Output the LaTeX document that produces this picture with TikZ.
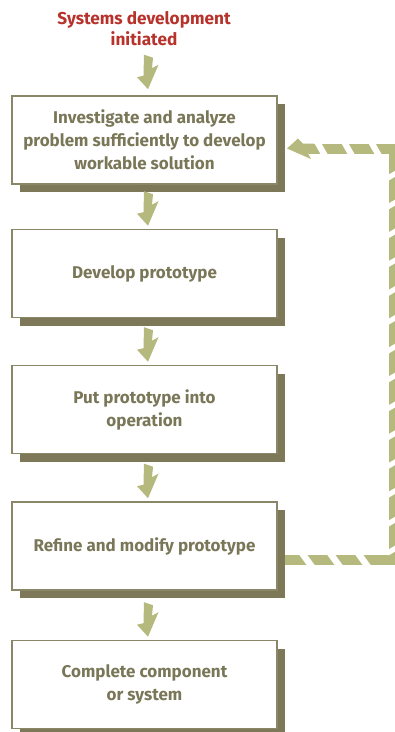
\documentclass[tikz,border=0pt]{standalone}
\usepackage{fontspec}
\setmainfont{Fira Sans}
\usetikzlibrary{shadows,calc}
\definecolor{arrowcol}{RGB}{181,185,126}
\definecolor{shadowcol}{RGB}{125,121,88}
\definecolor{textcol}{RGB}{122,119,88}
\definecolor{bordercol}{RGB}{138,134,104}
\definecolor{redcol}{RGB}{183,50,42}
\tikzset{
  stepbox/.style={draw=bordercol, line width=1.6pt, fill=white,
    minimum width=265pt, minimum height=88pt, inner sep=0pt, align=center,
    text=textcol, font=\fontsize{17}{23}\selectfont\bfseries,
    drop shadow={shadow xshift=8pt, shadow yshift=-8pt, fill=shadowcol, opacity=1}},
  titletext/.style={text=redcol, align=center, font=\fontsize{17.2}{21}\selectfont\bfseries},
  fatarrow/.style={fill=arrowcol, draw=none},
  gapcut/.style={fill=white, draw=none},
  band/.style={draw=arrowcol, line width=10pt, line join=miter},
  pics/downarrow/.style={code={
    \fill[fatarrow] (-4,-34.5) -- (5,-31.5) -- (4,-21) -- (10.5,-24.5) -- (0,0)
      -- (-11,-12) -- (-4.5,-13.5) -- cycle;}}
}
\begin{document}
\begin{tikzpicture}[x=1pt,y=-1pt]
\useasboundingbox (0,0) rectangle (395,732);

% feedback loop (drawn first, behind boxes)
\coordinate (fbR) at (394,0);
\coordinate (fbS) at (277,560);
\coordinate (fbE) at (287,148.5);
\draw[band] (fbS) -- (fbS -| fbR) -- (fbE -| fbR) -- ([xshift=22pt]fbE);
\fill[fatarrow] (fbE) -- (298,138.5) -- (303,143.5) -- (314,143.5) -- (320,153.5)
  -- (308,153.5) -- (311,159) -- cycle;
% gaps on top segment
\foreach \g in {314,341,368}
  \fill[gapcut] (\g,142.5) -- (\g+7,142.5) -- (\g+13.5,154) -- (\g+6.5,154) -- cycle;
% gaps on bottom segment
\foreach \g in {299,327,355}
  \fill[gapcut] (\g,554.5) -- (\g+8,554.5) -- (\g+16,565.5) -- (\g+8,565.5) -- cycle;
% gaps on vertical segment
\foreach \k in {-1,...,12}
  \fill[gapcut] (388.5,{197+28.83*\k+6.5}) -- (399.5,{197+28.83*\k}) -- (399.5,{197+28.83*\k+6})
     -- (388.5,{197+28.83*\k+12.5}) -- cycle;

% title
\node[titletext] (start) at (144,28.5) {Systems development\\initiated};

% boxes
\node[stepbox] (b1) at (144.5,140) {Investigate and analyze\\problem sufficiently to develop\\workable solution};
\node[stepbox] (b2) at (144.5,273.5) {Develop prototype};
\node[stepbox] (b3) at (144.5,409.5) {Put prototype into\\operation};
\node[stepbox] (b4) at (144.5,546) {Refine and modify prototype};
\node[stepbox] (b5) at (144.5,684.5) {Complete component\\or system};

% arrows
\pic at ([xshift=3.5pt,yshift=6pt]b1.north) {downarrow};
\pic at ([xshift=3.5pt,yshift=3pt]b2.north) {downarrow};
\pic at ([xshift=3.5pt,yshift=3pt]b3.north) {downarrow};
\pic at ([xshift=3.5pt,yshift=3pt]b4.north) {downarrow};
\pic at ([xshift=3.5pt,yshift=3pt]b5.north) {downarrow};
\end{tikzpicture}
\end{document}
